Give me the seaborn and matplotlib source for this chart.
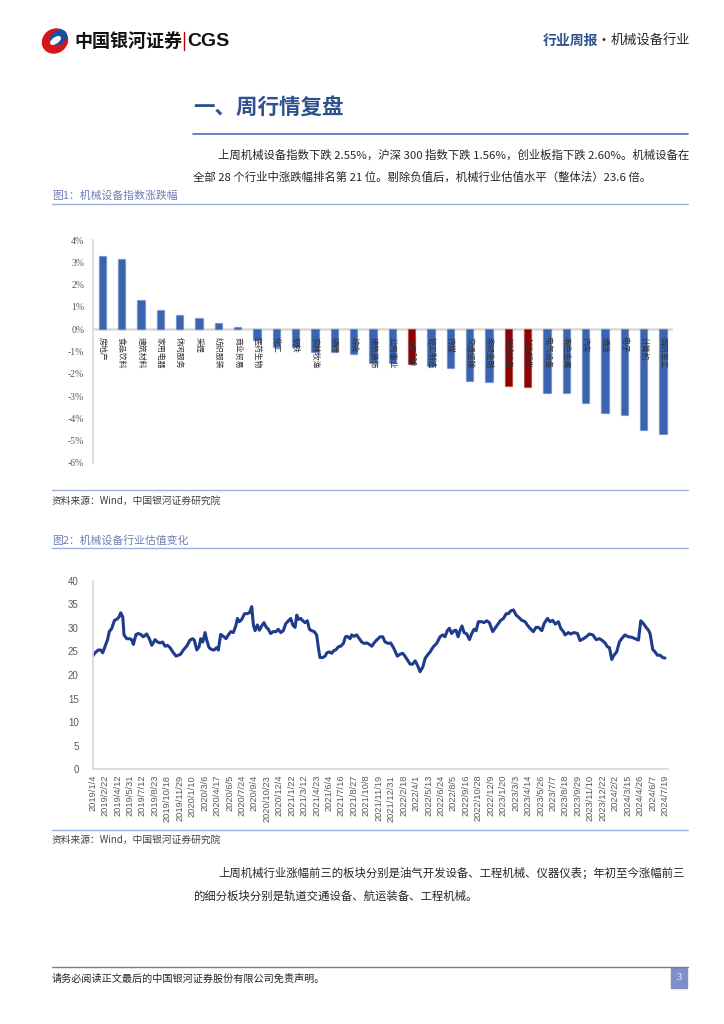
import numpy as np
import pandas as pd
import matplotlib
matplotlib.use("Agg")
import matplotlib.pyplot as plt
import seaborn as sns
from matplotlib.patches import Ellipse, Rectangle

# 图1：机械设备指数涨跌幅（%）
industry = ['房地产', '食品饮料', '建筑材料', '家用电器', '休闲服务', '采掘', '纺织服装', '商业贸易',
            '医药生物', '化工', '钢铁', '农林牧渔', '银行', '综合', '建筑装饰', '公用事业',
            '沪深300', '轻工制造', '传媒', '交通运输', '非银金融', '机械设备', '创业板指',
            '电气设备', '有色金属', '汽车', '通信', '电子', '计算机', '国防军工']
change = [3.30, 3.14, 1.31, 0.85, 0.64, 0.48, 0.27, 0.12,
          -0.47, -0.78, -0.78, -1.03, -1.03, -1.09, -1.50, -1.53,
          -1.56, -1.64, -1.72, -2.33, -2.36, -2.55, -2.60,
          -2.88, -2.88, -3.29, -3.78, -3.86, -4.54, -4.68]
highlight = ['沪深300', '机械设备', '创业板指']

# 图2：机械设备行业估值（PE），横轴为周数据点序号
pe_idx = [0, 1.1, 2.7, 3.9, 4.8, 5.9, 7.1, 8.0, 9.2, 10.5,
          11.6, 12.7, 13.5, 14.5, 15.1, 16.4, 17.7, 18.8, 19.6, 20.9,
          22.0, 23.2, 24.4, 26.0, 27.3, 28.5, 30.1, 31.2, 32.5, 33.7,
          34.9, 36.0, 37.3, 38.6, 40.2, 41.3, 42.4, 43.7, 45.3, 46.9,
          48.2, 49.0, 50.2, 51.3, 52.1, 53.1, 54.2, 55.0, 56.1, 57.4,
          58.5, 59.8, 60.6, 61.7, 63.0, 64.3, 65.4, 66.6, 67.8, 69.0,
          69.8, 70.7, 71.9, 73.2, 74.3, 75.6, 76.7, 77.5, 78.3, 79.4,
          80.4, 81.5, 82.6, 83.6, 84.7, 85.8, 87.1, 88.4, 89.5, 90.7,
          91.9, 93.1, 94.4, 95.5, 96.5, 97.6, 98.4, 99.2, 100.3, 101.3,
          102.4, 103.5, 104.5, 105.6, 106.8, 108.0, 109.0, 109.6, 110.9, 112.1,
          112.9, 114.1, 115.3, 116.1, 117.4, 118.5, 119.6, 120.9, 121.9, 122.8,
          124.1, 124.9, 126.0, 127.3, 128.6, 129.7, 130.9, 132.2, 133.4, 134.6,
          135.7, 136.9, 138.6, 139.9, 141.0, 142.6, 143.7, 145.3, 146.9, 148.2,
          149.5, 150.6, 151.8, 153.1, 154.3, 155.5, 156.6, 157.9, 159.2, 160.3,
          161.4, 162.7, 164.3, 165.9, 167.5, 168.8, 169.9, 171.0, 172.0, 173.1,
          174.3, 175.2, 176.2, 177.2, 178.1, 179.1, 180.4, 181.7, 182.8, 183.9,
          184.9, 186.0, 187.6, 188.7, 190.0, 191.3, 192.9, 194.0, 195.6, 196.8,
          198.1, 199.4, 200.5, 201.6, 202.9, 204.2, 205.3, 206.9, 208.5, 209.6,
          210.9, 212.5, 213.8, 215.0, 216.6, 217.7, 219.3, 220.6, 221.8, 223.1,
          224.6, 225.7, 227.0, 227.8, 229.4, 230.5, 232.1, 233.8, 235.0, 236.7,
          238.3, 239.5, 241.2, 242.8, 244.4, 245.5, 247.1, 248.2, 249.2, 250.3,
          251.4, 252.7, 254.0, 255.1, 256.7, 258.4, 260.0, 261.6, 263.2, 264.3,
          265.6, 266.9, 268.0, 268.8, 270.1, 271.2, 272.3, 273.6, 274.9, 276.0]
pe_val = [24.0, 24.7, 25.3, 25.3, 24.7, 26.0, 27.4, 29.2, 29.9, 31.6,
          31.8, 32.3, 33.2, 32.3, 28.5, 27.7, 27.7, 27.5, 26.5, 28.6,
          28.8, 28.6, 28.1, 28.7, 27.7, 26.3, 27.5, 27.0, 26.8, 27.0,
          26.1, 26.3, 25.8, 24.9, 24.0, 24.2, 24.4, 25.3, 26.1, 27.4,
          27.7, 27.4, 25.3, 26.0, 27.7, 27.0, 29.0, 27.4, 25.8, 25.4,
          25.3, 25.8, 25.3, 28.6, 28.2, 27.7, 28.5, 29.2, 29.0, 30.4,
          32.0, 31.3, 31.8, 33.0, 33.0, 33.2, 34.5, 30.6, 29.4, 30.6,
          29.5, 30.4, 31.1, 30.2, 29.7, 28.8, 29.2, 29.2, 29.7, 29.0,
          29.4, 30.9, 31.5, 32.0, 30.6, 30.1, 32.7, 31.8, 32.0, 31.5,
          31.1, 31.5, 29.7, 29.4, 29.2, 28.5, 25.3, 23.7, 23.7, 24.0,
          24.7, 24.9, 24.6, 25.1, 25.4, 26.0, 26.1, 26.7, 28.1, 28.2,
          27.7, 28.5, 28.2, 28.5, 27.7, 27.0, 26.7, 26.8, 26.5, 26.1,
          26.8, 27.4, 28.1, 28.1, 27.0, 26.7, 26.8, 25.6, 24.0, 24.4,
          24.6, 24.0, 23.2, 22.3, 22.3, 23.0, 22.1, 20.7, 21.7, 23.5,
          24.2, 24.9, 26.0, 26.7, 28.1, 28.5, 28.1, 29.4, 29.9, 28.8,
          29.4, 29.5, 28.1, 29.5, 30.4, 29.0, 28.7, 27.5, 28.8, 29.7,
          29.4, 31.3, 31.3, 31.1, 31.5, 31.1, 29.2, 29.9, 30.9, 31.6,
          32.0, 33.0, 33.0, 33.6, 33.8, 32.7, 32.3, 31.6, 31.3, 30.6,
          29.9, 29.2, 30.1, 30.1, 29.4, 30.9, 32.0, 31.3, 31.6, 30.8,
          31.3, 29.9, 29.2, 28.5, 29.0, 28.7, 29.0, 28.8, 27.3, 27.7,
          28.2, 28.7, 28.5, 27.5, 27.7, 27.4, 26.8, 26.0, 25.8, 23.3,
          24.2, 24.9, 27.0, 27.7, 28.5, 28.1, 28.0, 27.7, 27.4, 31.5,
          30.9, 30.1, 29.5, 28.8, 25.4, 24.9, 24.2, 24.2, 23.7, 23.6]
date_ticks = ['2019/1/4', '2019/2/22', '2019/4/12', '2019/5/31', '2019/7/12', '2019/8/23',
              '2019/10/18', '2019/11/29', '2020/1/10', '2020/3/6', '2020/4/17', '2020/6/5',
              '2020/7/24', '2020/9/4', '2020/10/23', '2020/12/4', '2021/1/22', '2021/3/12',
              '2021/4/23', '2021/6/4', '2021/7/16', '2021/8/27', '2021/10/8', '2021/11/19',
              '2021/12/31', '2022/2/18', '2022/4/1', '2022/5/13', '2022/6/24', '2022/8/5',
              '2022/9/16', '2022/10/28', '2022/12/9', '2023/1/20', '2023/3/3', '2023/4/14',
              '2023/5/26', '2023/7/7', '2023/8/18', '2023/9/29', '2023/11/10', '2023/12/22',
              '2024/2/2', '2024/3/15', '2024/4/26', '2024/6/7', '2024/7/19']

sns.set_theme(style="white")
plt.rcParams['font.family'] = ['Noto Sans CJK SC', 'DejaVu Sans']
plt.rcParams['axes.unicode_minus'] = False

W, H = 724, 1024
fig = plt.figure(figsize=(W / 100, H / 100), dpi=100)
fig.patch.set_facecolor('white')

# page layer in pixel coordinates
page = fig.add_axes([0, 0, 1, 1])
page.set_xlim(0, W)
page.set_ylim(H, 0)
page.axis('off')


def box(x0, y0, x1, y1):
    return [x0 / W, 1 - y1 / H, (x1 - x0) / W, (y1 - y0) / H]


BLUE = '#2F528F'
TXT = '#262626'

# header
page.add_patch(Ellipse((55, 41), 26, 23, angle=-35, color='#D7141A'))
page.add_patch(Ellipse((58.5, 37.5), 17, 13, angle=-35, color='#1B4DA0'))
page.add_patch(Ellipse((55.5, 40.5), 11, 5, angle=-35, color='white'))
page.text(74, 41, '中国银河证券', fontsize=13, fontweight='bold', color='#111111', va='center')
page.plot([184, 184], [32, 50], color='#C00000', lw=1)
page.text(187, 41, 'CGS', fontsize=14, fontweight='bold', color='#111111', va='center',
          family=['Liberation Sans'])
page.text(543, 41, '行业周报', fontsize=10, fontweight='bold', color=BLUE, va='center')
page.text(604, 41, '·', fontsize=10, color=TXT, va='center', ha='center')
page.text(690, 41, '机械设备行业', fontsize=9.5, color=TXT, va='center', ha='right')

# section title
page.text(193, 108, '一、周行情复盘', fontsize=15.5, fontweight='bold', color=BLUE, va='center')
page.plot([193, 688], [134, 134], color='#4472C4', lw=1.2)

page.text(218, 155, '上周机械设备指数下跌 2.55%，沪深 300 指数下跌 1.56%，创业板指下跌 2.60%。机械设备在',
          fontsize=8.2, color=TXT, va='center')
page.text(193, 177, '全部 28 个行业中涨跌幅排名第 21 位。剔除负值后，机械行业估值水平（整体法）23.6 倍。',
          fontsize=8.2, color=TXT, va='center')

CAP = '#6E7DB5'
LINE = '#9DB1DC'
page.text(52, 196, '图1：机械设备指数涨跌幅', fontsize=7.8, color=CAP, va='center')
page.plot([52, 688], [204, 204], color=LINE, lw=1)
page.plot([52, 688], [490, 490], color=LINE, lw=1)
page.text(52, 501, '资料来源：Wind，中国银河证券研究院', fontsize=7, color='#404040', va='center')

page.text(52, 540, '图2：机械设备行业估值变化', fontsize=7.8, color=CAP, va='center')
page.plot([52, 688], [548, 548], color=LINE, lw=1)
page.plot([52, 688], [830, 830], color=LINE, lw=1)
page.text(52, 840, '资料来源：Wind，中国银河证券研究院', fontsize=7, color='#404040', va='center')

page.text(218, 873, '上周机械行业涨幅前三的板块分别是油气开发设备、工程机械、仪器仪表；年初至今涨幅前三',
          fontsize=8.2, color=TXT, va='center')
page.text(193, 896, '的细分板块分别是轨道交通设备、航运装备、工程机械。',
          fontsize=8.2, color=TXT, va='center')

# footer
page.plot([52, 688], [967, 967], color='#7F7F7F', lw=1)
page.text(52, 979, '请务必阅读正文最后的中国银河证券股份有限公司免责声明。', fontsize=7.3, color=TXT, va='center')
page.add_patch(Rectangle((671, 968), 16, 20, color='#7F8FC9'))
page.text(679, 978, '3', fontsize=7.5, color='white', ha='center', va='center',
          family=['Liberation Serif'])

# ---- chart 1: bar chart ----
df1 = pd.DataFrame({'industry': industry, 'change': change})
palette = {n: ('#900000' if n in highlight else '#3A63B0') for n in industry}
ax1 = fig.add_axes(box(92.7, 240, 672.7, 463))
sns.barplot(data=df1, x='industry', y='change', hue='industry', palette=palette,
            width=0.37, saturation=1, legend=False, ax=ax1)
for bar in ax1.patches:
    r, g, b, _ = bar.get_facecolor()
    bar.set_edgecolor((r, g, b, 0.35))
    bar.set_linewidth(1.0)
ax1.set_xlim(-0.5, len(industry) - 0.5)
ax1.set_ylim(-6, 4)
ax1.set_yticks(range(-6, 5))
ax1.set_yticklabels([f'{v}%' for v in range(-6, 5)], fontsize=7, color='#595959',
                    family=['Liberation Serif'])
ax1.set_xticks([])
ax1.set_xlabel('')
ax1.set_ylabel('')
ax1.axhline(0, color='#D9D9D9', lw=1.8, zorder=0.5)
for s in ['top', 'right', 'bottom']:
    ax1.spines[s].set_visible(False)
ax1.spines['left'].set_color('#D9D9D9')
ax1.tick_params(length=0, pad=6)
for i, name in enumerate(industry):
    ax1.text(i, -0.33, name, rotation=-90, ha='center', va='top', fontsize=5.7, color='#333333')

# ---- chart 2: PE line ----
df2 = pd.DataFrame({'idx': pe_idx, 'pe': pe_val})
ax2 = fig.add_axes(box(92.7, 580.7, 667.7, 769.3))
sns.lineplot(data=df2, x='idx', y='pe', color='#1F3C8C', lw=2.2, ax=ax2)
ax2.set_xlim(0, 277.3)
ax2.set_ylim(0, 40)
ax2.set_yticks(range(0, 41, 5))
ax2.set_yticklabels([str(v) for v in range(0, 41, 5)], fontsize=7, color='#595959',
                    family=['Liberation Sans'])
ax2.set_xticks(np.arange(len(date_ticks)) * 6)
ax2.set_xticklabels(date_ticks, rotation=90, fontsize=6.7, color='#595959',
                    family=['Liberation Sans'])
ax2.set_xlabel('')
ax2.set_ylabel('')
for s in ['top', 'right']:
    ax2.spines[s].set_visible(False)
ax2.spines['left'].set_color('#D9D9D9')
ax2.spines['bottom'].set_color('#D9D9D9')
ax2.tick_params(length=0)
ax2.tick_params(axis='y', pad=10)
ax2.tick_params(axis='x', pad=4)

fig.savefig('out.png', dpi=100, facecolor='white')
